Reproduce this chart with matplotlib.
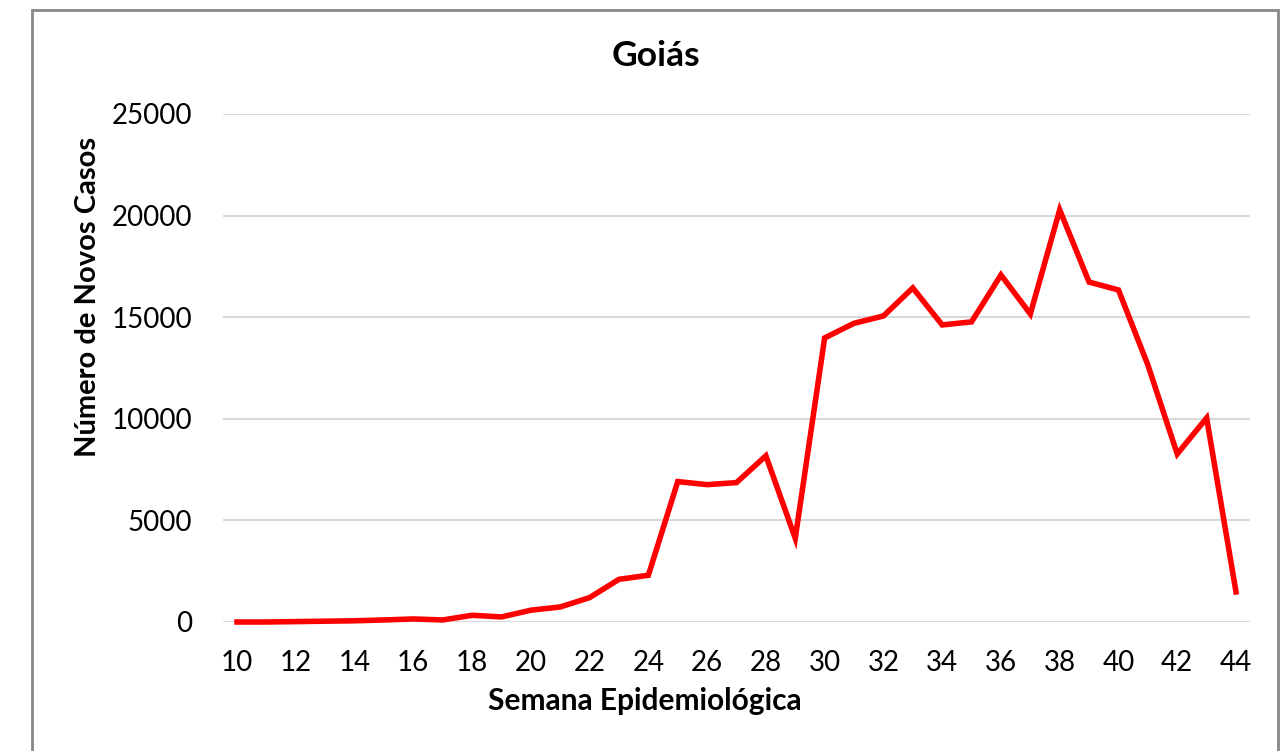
import matplotlib
matplotlib.use("Agg")
import matplotlib.pyplot as plt
from matplotlib.patches import Rectangle

plt.rcParams['font.family'] = ['Lato', 'DejaVu Sans']

weeks = list(range(10, 45))
cases = [0, 0, 20, 40, 60, 100, 150, 100, 330, 250, 580, 740, 1200, 2100, 2300,
         6910, 6760, 6860, 8180, 4120, 13980, 14700, 15060, 16440, 14620, 14770,
         17080, 15160, 20280, 16730, 16340, 12650, 8270, 10040, 1480]
xticks = list(range(10, 45, 2))
yticks = [0, 5000, 10000, 15000, 20000, 25000]

W, H = 1280, 751
fig = plt.figure(figsize=(W/100, H/100), dpi=100)
fig.patch.set_facecolor('white')
fig.patches.append(Rectangle((32/W, -0.05), (1278-32)/W, 1 - 10/H + 0.05,
                             transform=fig.transFigure, fill=False,
                             edgecolor='#888888', linewidth=2))

ax = fig.add_axes([223/W, 1-622/H, (1250-223)/W, (622-114)/H])
ax.plot(weeks, cases, color='#ff0000', linewidth=4, clip_on=False,
        solid_joinstyle='miter', zorder=3)
ax.set_xlim(10 - 14/29.38, 44 + 14/29.38)
ax.set_ylim(0, 25000)
ax.set_xticks(xticks)
ax.set_yticks(yticks)
ax.tick_params(axis='both', length=0, labelsize=20, colors='black')
ax.tick_params(axis='x', pad=20)
ax.tick_params(axis='y', pad=22)
ax.grid(axis='y', color='#d9d9d9', linewidth=1.5)
ax.set_axisbelow(True)
for s in ax.spines.values():
    s.set_visible(False)

fig.text(656/W, 1-56/H, 'Goiás', ha='center', va='center', fontsize=25.5, fontweight='bold')
fig.text(645/W, 1-701/H, 'Semana Epidemiológica', ha='center', va='center', fontsize=21.5, fontweight='bold')
fig.text(88/W, 1-297/H, 'Número de Novos Casos', ha='center', va='center', rotation=90,
         fontsize=21, fontweight='bold')

fig.savefig('out.png', dpi=100)
